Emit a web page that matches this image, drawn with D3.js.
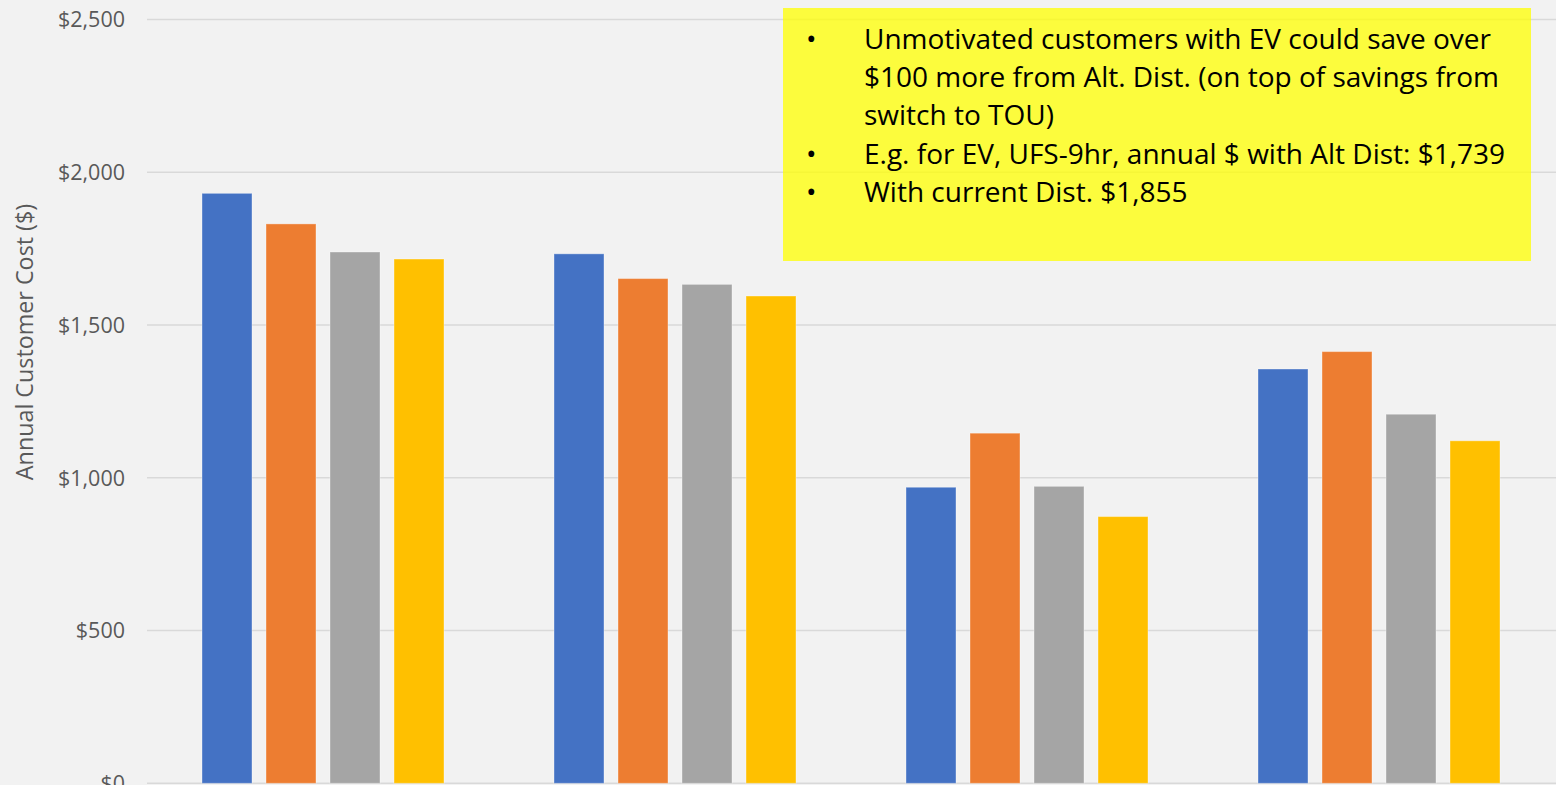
<!DOCTYPE html>
<html>
<head>
  <meta charset="utf-8">
  <script src="https://d3js.org/d3.v7.min.js"></script>
  <style>
    html, body { margin: 0; padding: 0; background: #f2f2f2; overflow: hidden; }
    text { font-family: "Open Sans", sans-serif; }
  </style>
</head>
<body>
<script>
  // chart data
  var categories = ["Group 1", "Group 2", "Group 3", "Group 4"];
  var seriesNames = ["Series 1", "Series 2", "Series 3", "Series 4"];
  var seriesColors = ["#4472c4", "#ed7d31", "#a5a5a5", "#ffc000"];
  var blueVals   = [1931, 1733, 969, 1356];
  var orangeVals = [1831, 1652, 1146, 1413];
  var grayVals   = [1739, 1633, 972, 1208];
  var yellowVals = [1716, 1595, 873, 1121];
  var yTicks = [0, 500, 1000, 1500, 2000, 2500];
  var noteLines = [
    {bullet: true,  text: "Unmotivated customers with EV could save over"},
    {bullet: false, text: "$100 more from Alt. Dist. (on top of savings from"},
    {bullet: false, text: "switch to TOU)"},
    {bullet: true,  text: "E.g. for EV, UFS-9hr, annual $ with Alt Dist: $1,739"},
    {bullet: true,  text: "With current Dist. $1,855"}
  ];

  var allSeries = [blueVals, orangeVals, grayVals, yellowVals];
  var rows = categories.map(function(c, i) {
    return {cat: c, vals: allSeries.map(function(s, j) { return {name: seriesNames[j], v: s[i], k: j}; })};
  });

  var W = 1556, H = 785;
  var mLeft = 147, mRight = 1555, mTop = 19.5, mBottom = 783.3;

  var svg = d3.select("body").append("svg")
      .attr("width", W).attr("height", H);

  var y = d3.scaleLinear().domain([0, 2500]).range([mBottom, mTop]);
  var x0 = d3.scaleBand().domain(categories).range([mLeft, mRight]).padding(0);
  var x1 = d3.scaleBand().domain(seriesNames).range([55, 297]).paddingInner(0.219).paddingOuter(0);

  // gridlines
  svg.append("g").selectAll("line").data(yTicks).join("line")
      .attr("x1", mLeft).attr("x2", W)
      .attr("y1", function(d) { return y(d); })
      .attr("y2", function(d) { return y(d); })
      .attr("stroke", "#d9d9d9").attr("stroke-width", 1.5);

  // tick labels
  svg.append("g").selectAll("text").data(yTicks).join("text")
      .attr("x", 125)
      .attr("y", function(d) { return y(d); })
      .attr("dy", "0.36em")
      .attr("text-anchor", "end")
      .attr("fill", "#595959")
      .style("font-size", "21.5px")
      .text(function(d) { return "$" + d3.format(",")(d); });

  svg.append("text")
      .attr("transform", "translate(33,342) rotate(-90)")
      .attr("text-anchor", "middle")
      .attr("fill", "#595959")
      .style("font-size", "23.3px")
      .text("Annual Customer Cost ($)");

  // bars
  var groups = svg.append("g").selectAll("g").data(rows).join("g")
      .attr("transform", function(d) { return "translate(" + x0(d.cat) + ",0)"; });

  groups.selectAll("rect").data(function(d) { return d.vals; }).join("rect")
      .attr("x", function(d) { return x1(d.name); })
      .attr("width", x1.bandwidth())
      .attr("y", function(d) { return y(d.v); })
      .attr("height", function(d) { return mBottom - y(d.v); })
      .attr("fill", function(d) { return seriesColors[d.k]; })
      .attr("stroke", "#ffffff").attr("stroke-opacity", 0.35).attr("stroke-width", 1);

  // yellow note box
  var note = svg.append("g");
  note.append("rect")
      .attr("x", 783).attr("y", 8)
      .attr("width", 748).attr("height", 253)
      .attr("fill", "#ffff00").attr("fill-opacity", 0.75);

  var lineStep = 38.2;
  noteLines.forEach(function(l, i) {
    var by = 49 + i * lineStep;
    if (l.bullet) {
      note.append("text").attr("x", 806).attr("y", by)
          .style("font-size", "28px").attr("fill", "#000").text("\u2022");
    }
    note.append("text").attr("x", 864).attr("y", by)
        .style("font-size", "28px").attr("fill", "#000").text(l.text);
  });
</script>
</body>
</html>
